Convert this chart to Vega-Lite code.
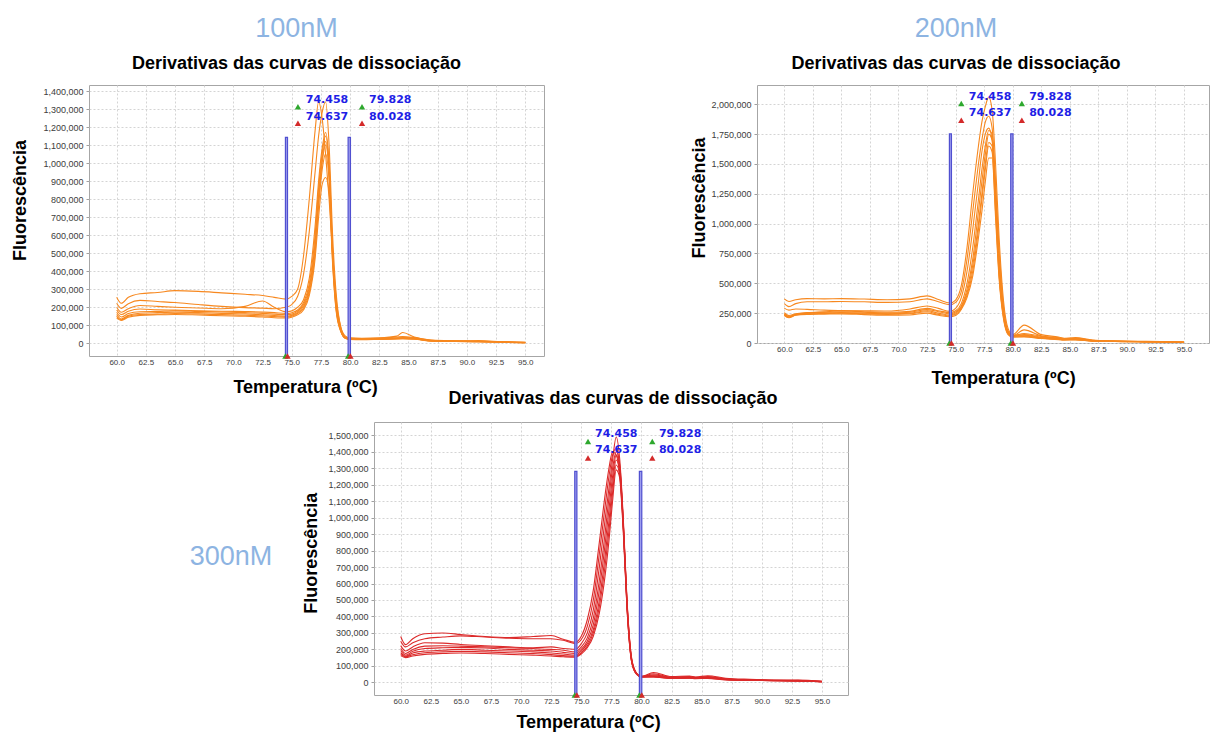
{
  "$schema": "https://vega.github.io/schema/vega-lite/v6.json",
  "background": "white",
  "padding": {"left": 10, "top": 14, "right": 0, "bottom": 0},
  "config": {
    "font": "Liberation Sans",
    "view": {"stroke": "#A6A6A6", "strokeWidth": 1},
    "axis": {"domain": false, "gridColor": "#D4D4D4", "gridDash": [2, 2], "gridWidth": 1, "labelColor": "#3C3C3C", "labelFont": "Liberation Sans", "tickColor": "#A0A0A0", "titleFont": "Liberation Sans", "titleFontSize": 18, "titleFontWeight": "bold", "titleColor": "#000000", "labelOverlap": false},
    "axisX": {"ticks": false, "labelFontSize": 8, "labelPadding": 2, "titleBaseline": "alphabetic", "titleAlign": "center"},
    "axisY": {"tickSize": 3, "labelPadding": 3, "labelFontSize": 9, "titleAngle": 270, "titleBaseline": "alphabetic", "titleAlign": "center"}
  },
  "datasets": {
    "p1": [
      {"t":60,"a":256000,"b":222000,"c":200000,"d":185000,"e":172000,"f":160000,"g":150000,"h":140000},
      {"t":60.4,"a":222000,"b":194000,"c":172000,"d":160000,"e":146000,"f":135000,"g":130000,"h":127000},
      {"t":61,"a":255000,"b":220000,"c":192000,"d":178000,"e":165000,"f":155000,"g":150000,"h":145000},
      {"t":62,"a":275000,"b":238000,"c":210000,"d":190000,"e":175000,"f":167000,"g":160000,"h":155000},
      {"t":63.5,"a":282000,"b":232000,"c":205000,"d":186000,"e":177000,"f":170000,"g":162000,"h":158000},
      {"t":65,"a":292000,"b":226000,"c":200000,"d":184000,"e":180000,"f":172000,"g":165000,"h":160000},
      {"t":67,"a":288000,"b":215000,"c":196000,"d":181000,"e":177000,"f":170000,"g":163000,"h":157000},
      {"t":69,"a":280000,"b":205000,"c":192000,"d":178000,"e":174000,"f":166000,"g":159000,"h":153000},
      {"t":71,"a":272000,"b":198000,"c":205000,"d":176000,"e":170000,"f":163000,"g":156000,"h":150000},
      {"t":72.5,"a":265000,"b":195000,"c":235000,"d":173000,"e":166000,"f":158000,"g":152000,"h":146000},
      {"t":73.5,"a":255000,"b":192000,"c":200000,"d":170000,"e":162000,"f":154000,"g":148000,"h":142000},
      {"t":74.5,"a":245000,"b":200000,"c":175000,"d":165000,"e":158000,"f":150000,"g":145000,"h":140000},
      {"t":75,"a":260000,"b":215000,"c":180000,"d":170000,"e":162000,"f":155000,"g":150000,"h":145000},
      {"t":75.5,"a":300000,"b":260000,"c":200000,"d":185000,"e":178000,"f":170000,"g":165000,"h":158000},
      {"t":76,"a":480000,"b":380000,"c":240000,"d":225000,"e":215000,"f":205000,"g":195000,"h":185000},
      {"t":76.5,"a":800000,"b":620000,"c":360000,"d":330000,"e":310000,"f":295000,"g":280000,"h":265000},
      {"t":77,"a":1180000,"b":950000,"c":650000,"d":600000,"e":560000,"f":530000,"g":500000,"h":470000},
      {"t":77.3,"a":1340000,"b":1150000,"c":900000,"d":860000,"e":820000,"f":790000,"g":760000,"h":700000},
      {"t":77.6,"a":1250000,"b":1280000,"c":1080000,"d":1050000,"e":1020000,"f":1000000,"g":960000,"h":880000},
      {"t":77.9,"a":1050000,"b":1340000,"c":1170000,"d":1150000,"e":1120000,"f":1100000,"g":1050000,"h":920000},
      {"t":78.2,"a":800000,"b":1100000,"c":1000000,"d":980000,"e":960000,"f":940000,"g":900000,"h":840000},
      {"t":78.5,"a":500000,"b":600000,"c":520000,"d":500000,"e":490000,"f":480000,"g":460000,"h":440000},
      {"t":78.8,"a":250000,"b":280000,"c":230000,"d":220000,"e":210000,"f":200000,"g":190000,"h":180000},
      {"t":79.2,"a":90000,"b":90000,"c":80000,"d":75000,"e":72000,"f":70000,"g":68000,"h":65000},
      {"t":79.6,"a":40000,"b":35000,"c":32000,"d":30000,"e":30000,"f":28000,"g":28000,"h":27000},
      {"t":80,"a":30000,"b":28000,"c":26000,"d":25000,"e":24000,"f":23000,"g":22000,"h":22000},
      {"t":81,"a":28000,"b":26000,"c":25000,"d":24000,"e":22000,"f":22000,"g":21000,"h":20000},
      {"t":82.5,"a":30000,"b":28000,"c":26000,"d":25000,"e":24000,"f":23000,"g":22000,"h":22000},
      {"t":84,"a":40000,"b":35000,"c":30000,"d":28000,"e":27000,"f":26000,"g":25000,"h":24000},
      {"t":84.5,"a":60000,"b":38000,"c":32000,"d":30000,"e":28000,"f":27000,"g":26000,"h":25000},
      {"t":85.5,"a":35000,"b":32000,"c":30000,"d":28000,"e":26000,"f":25000,"g":24000,"h":23000},
      {"t":87,"a":18000,"b":16000,"c":15000,"d":14000,"e":14000,"f":13000,"g":13000,"h":12000},
      {"t":89,"a":14000,"b":13000,"c":12000,"d":12000,"e":11000,"f":11000,"g":10000,"h":10000},
      {"t":91,"a":12000,"b":11000,"c":15000,"d":10000,"e":10000,"f":9000,"g":9000,"h":9000},
      {"t":93,"a":8000,"b":8000,"c":8000,"d":7000,"e":7000,"f":6000,"g":6000,"h":6000},
      {"t":95,"a":5000,"b":5000,"c":4000,"d":4000,"e":3000,"f":3000,"g":3000,"h":3000}
    ],
    "p2": [
      {"t":60,"a":370000,"b":330000,"c":292000,"d":255000,"e":245000,"f":240000,"g":235000,"h":230000},
      {"t":60.4,"a":348000,"b":305000,"c":275000,"d":230000,"e":222000,"f":218000,"g":215000,"h":212000},
      {"t":61,"a":362000,"b":330000,"c":285000,"d":245000,"e":240000,"f":238000,"g":235000,"h":232000},
      {"t":62,"a":372000,"b":345000,"c":282000,"d":255000,"e":252000,"f":248000,"g":245000,"h":240000},
      {"t":63.5,"a":370000,"b":345000,"c":275000,"d":262000,"e":258000,"f":252000,"g":248000,"h":242000},
      {"t":65,"a":372000,"b":348000,"c":272000,"d":268000,"e":262000,"f":255000,"g":250000,"h":244000},
      {"t":67,"a":368000,"b":345000,"c":270000,"d":262000,"e":258000,"f":250000,"g":245000,"h":238000},
      {"t":69,"a":362000,"b":340000,"c":268000,"d":258000,"e":250000,"f":245000,"g":240000,"h":232000},
      {"t":71,"a":370000,"b":345000,"c":285000,"d":265000,"e":258000,"f":250000,"g":245000,"h":235000},
      {"t":72.5,"a":395000,"b":370000,"c":310000,"d":290000,"e":280000,"f":270000,"g":262000,"h":250000},
      {"t":73.5,"a":365000,"b":345000,"c":290000,"d":270000,"e":262000,"f":250000,"g":240000,"h":232000},
      {"t":74.5,"a":335000,"b":320000,"c":265000,"d":255000,"e":245000,"f":235000,"g":228000,"h":220000},
      {"t":75,"a":360000,"b":340000,"c":290000,"d":270000,"e":260000,"f":250000,"g":240000,"h":230000},
      {"t":75.5,"a":480000,"b":430000,"c":380000,"d":330000,"e":310000,"f":300000,"g":290000,"h":280000},
      {"t":76,"a":800000,"b":700000,"c":600000,"d":500000,"e":450000,"f":420000,"g":400000,"h":380000},
      {"t":76.5,"a":1250000,"b":1100000,"c":950000,"d":800000,"e":700000,"f":650000,"g":600000,"h":560000},
      {"t":77,"a":1650000,"b":1500000,"c":1350000,"d":1200000,"e":1100000,"f":1000000,"g":950000,"h":880000},
      {"t":77.3,"a":1850000,"b":1700000,"c":1600000,"d":1450000,"e":1350000,"f":1250000,"g":1200000,"h":1100000},
      {"t":77.6,"a":1980000,"b":1850000,"c":1750000,"d":1650000,"e":1580000,"f":1500000,"g":1450000,"h":1350000},
      {"t":77.9,"a":2060000,"b":1900000,"c":1800000,"d":1780000,"e":1750000,"f":1680000,"g":1650000,"h":1550000},
      {"t":78.2,"a":1950000,"b":1800000,"c":1700000,"d":1750000,"e":1700000,"f":1650000,"g":1600000,"h":1550000},
      {"t":78.5,"a":1500000,"b":1300000,"c":1250000,"d":1350000,"e":1200000,"f":1150000,"g":1100000,"h":1050000},
      {"t":78.8,"a":900000,"b":800000,"c":700000,"d":750000,"e":650000,"f":600000,"g":580000,"h":550000},
      {"t":79.2,"a":350000,"b":300000,"c":260000,"d":280000,"e":240000,"f":220000,"g":210000,"h":200000},
      {"t":79.6,"a":120000,"b":100000,"c":90000,"d":95000,"e":85000,"f":80000,"g":75000,"h":70000},
      {"t":80,"a":70000,"b":60000,"c":60000,"d":65000,"e":60000,"f":55000,"g":50000,"h":50000},
      {"t":81,"a":150000,"b":110000,"c":80000,"d":70000,"e":65000,"f":60000,"g":55000,"h":50000},
      {"t":82.5,"a":70000,"b":60000,"c":55000,"d":50000,"e":45000,"f":42000,"g":40000,"h":38000},
      {"t":84,"a":50000,"b":45000,"c":40000,"d":38000,"e":35000,"f":32000,"g":30000,"h":28000},
      {"t":84.5,"a":40000,"b":38000,"c":35000,"d":33000,"e":30000,"f":28000,"g":26000,"h":25000},
      {"t":85.5,"a":45000,"b":40000,"c":38000,"d":35000,"e":32000,"f":30000,"g":28000,"h":26000},
      {"t":87,"a":25000,"b":22000,"c":20000,"d":20000,"e":18000,"f":18000,"g":16000,"h":15000},
      {"t":89,"a":18000,"b":16000,"c":15000,"d":14000,"e":13000,"f":13000,"g":12000,"h":12000},
      {"t":91,"a":14000,"b":13000,"c":12000,"d":12000,"e":11000,"f":11000,"g":10000,"h":10000},
      {"t":93,"a":12000,"b":11000,"c":10000,"d":10000,"e":9000,"f":9000,"g":8000,"h":8000},
      {"t":95,"a":8000,"b":7000,"c":6000,"d":6000,"e":5000,"f":5000,"g":4000,"h":4000}
    ],
    "p3": [
      {"t":60,"a":278000,"b":250000,"c":223000,"d":205000,"e":193000,"f":180000,"g":170000,"h":162000},
      {"t":60.4,"a":229000,"b":215000,"c":190000,"d":175000,"e":165000,"f":158000,"g":155000,"h":150000},
      {"t":61,"a":265000,"b":240000,"c":215000,"d":200000,"e":188000,"f":178000,"g":168000,"h":160000},
      {"t":62,"a":295000,"b":265000,"c":240000,"d":220000,"e":205000,"f":190000,"g":180000,"h":170000},
      {"t":63.5,"a":300000,"b":275000,"c":238000,"d":222000,"e":210000,"f":195000,"g":185000,"h":175000},
      {"t":65,"a":290000,"b":282000,"c":230000,"d":220000,"e":212000,"f":200000,"g":188000,"h":178000},
      {"t":67,"a":278000,"b":275000,"c":222000,"d":215000,"e":208000,"f":195000,"g":185000,"h":175000},
      {"t":69,"a":272000,"b":268000,"c":215000,"d":210000,"e":200000,"f":190000,"g":180000,"h":170000},
      {"t":71,"a":278000,"b":265000,"c":210000,"d":205000,"e":195000,"f":185000,"g":175000,"h":165000},
      {"t":72.5,"a":284000,"b":265000,"c":215000,"d":200000,"e":190000,"f":178000,"g":168000,"h":160000},
      {"t":73.5,"a":262000,"b":255000,"c":205000,"d":195000,"e":182000,"f":172000,"g":162000,"h":155000},
      {"t":74.5,"a":243000,"b":235000,"c":200000,"d":185000,"e":175000,"f":165000,"g":158000,"h":152000},
      {"t":75,"a":280000,"b":260000,"c":235000,"d":215000,"e":200000,"f":190000,"g":180000,"h":172000},
      {"t":75.5,"a":380000,"b":340000,"c":300000,"d":270000,"e":250000,"f":235000,"g":220000,"h":210000},
      {"t":76,"a":560000,"b":500000,"c":440000,"d":390000,"e":350000,"f":320000,"g":300000,"h":280000},
      {"t":76.5,"a":850000,"b":780000,"c":700000,"d":620000,"e":560000,"f":500000,"g":460000,"h":420000},
      {"t":77,"a":1150000,"b":1080000,"c":1000000,"d":920000,"e":850000,"f":780000,"g":720000,"h":660000},
      {"t":77.3,"a":1300000,"b":1250000,"c":1180000,"d":1120000,"e":1050000,"f":980000,"g":920000,"h":860000},
      {"t":77.6,"a":1400000,"b":1380000,"c":1350000,"d":1300000,"e":1250000,"f":1200000,"g":1150000,"h":1100000},
      {"t":77.9,"a":1380000,"b":1420000,"c":1490000,"d":1400000,"e":1380000,"f":1350000,"g":1320000,"h":1290000},
      {"t":78.2,"a":1250000,"b":1300000,"c":1350000,"d":1320000,"e":1300000,"f":1280000,"g":1260000,"h":1240000},
      {"t":78.5,"a":900000,"b":950000,"c":980000,"d":960000,"e":950000,"f":940000,"g":930000,"h":920000},
      {"t":78.8,"a":450000,"b":480000,"c":500000,"d":490000,"e":480000,"f":470000,"g":460000,"h":450000},
      {"t":79.2,"a":120000,"b":130000,"c":140000,"d":135000,"e":130000,"f":125000,"g":120000,"h":118000},
      {"t":79.6,"a":50000,"b":52000,"c":55000,"d":55000,"e":52000,"f":50000,"g":50000,"h":48000},
      {"t":80,"a":35000,"b":35000,"c":36000,"d":35000,"e":34000,"f":33000,"g":32000,"h":32000},
      {"t":81,"a":60000,"b":52000,"c":45000,"d":40000,"e":38000,"f":35000,"g":33000,"h":32000},
      {"t":82.5,"a":35000,"b":32000,"c":30000,"d":28000,"e":27000,"f":25000,"g":24000,"h":23000},
      {"t":84,"a":38000,"b":35000,"c":32000,"d":30000,"e":28000,"f":27000,"g":26000,"h":25000},
      {"t":84.5,"a":32000,"b":30000,"c":28000,"d":27000,"e":25000,"f":24000,"g":23000,"h":22000},
      {"t":85.5,"a":40000,"b":35000,"c":32000,"d":30000,"e":28000,"f":26000,"g":25000,"h":24000},
      {"t":87,"a":25000,"b":22000,"c":20000,"d":20000,"e":18000,"f":17000,"g":16000,"h":15000},
      {"t":89,"a":18000,"b":16000,"c":15000,"d":14000,"e":13000,"f":13000,"g":12000,"h":12000},
      {"t":91,"a":14000,"b":12000,"c":12000,"d":11000,"e":11000,"f":10000,"g":10000,"h":10000},
      {"t":93,"a":12000,"b":14000,"c":10000,"d":10000,"e":9000,"f":9000,"g":8000,"h":8000},
      {"t":95,"a":6000,"b":6000,"c":5000,"d":5000,"e":4000,"f":4000,"g":4000,"h":3000}
    ],
    "bars1": [{"t":74.458,"t2":74.637,"v":1143000},{"t":79.828,"t2":80.028,"v":1143000}],
    "bars2": [{"t":74.458,"t2":74.637,"v":1752000},{"t":79.828,"t2":80.028,"v":1752000}],
    "bars3": [{"t":74.458,"t2":74.637,"v":1281000},{"t":79.828,"t2":80.028,"v":1281000}],
    "bot": [{"t":74.458,"kind":"start"},{"t":79.828,"kind":"start"},{"t":74.637,"kind":"end"},{"t":80.028,"kind":"end"}],
    "lab1": [{"t":76.2,"v":1350000,"lbl":"74.458"},{"t":76.2,"v":1257000,"lbl":"74.637"},{"t":81.62,"v":1350000,"lbl":"79.828"},{"t":81.62,"v":1257000,"lbl":"80.028"}],
    "tri1": [{"t":75.53,"v":1313000,"kind":"start"},{"t":75.53,"v":1221000,"kind":"end"},{"t":81.02,"v":1313000,"kind":"start"},{"t":81.02,"v":1221000,"kind":"end"}],
    "lab2": [{"t":76.16,"v":2063000,"lbl":"74.458"},{"t":76.16,"v":1927000,"lbl":"74.637"},{"t":81.44,"v":2063000,"lbl":"79.828"},{"t":81.44,"v":1927000,"lbl":"80.028"}],
    "tri2": [{"t":75.5,"v":2006000,"kind":"start"},{"t":75.5,"v":1867000,"kind":"end"},{"t":80.8,"v":2006000,"kind":"start"},{"t":80.8,"v":1867000,"kind":"end"}],
    "lab3": [{"t":76.14,"v":1510000,"lbl":"74.458"},{"t":76.14,"v":1408000,"lbl":"74.637"},{"t":81.45,"v":1510000,"lbl":"79.828"},{"t":81.45,"v":1408000,"lbl":"80.028"}],
    "tri3": [{"t":75.56,"v":1463000,"kind":"start"},{"t":75.56,"v":1362000,"kind":"end"},{"t":80.9,"v":1463000,"kind":"start"},{"t":80.9,"v":1362000,"kind":"end"}],
    "conc3": [{"fx":0.673,"fy":0.5055,"lbl":"300nM"}]
  },
  "spacing": -8,
  "vconcat": [
    {
      "spacing": 144,
      "hconcat": [
        {
          "width": 455, "height": 271,
          "title": {"text": "100nM", "subtitle": "Derivativas das curvas de dissociação", "fontSize": 27, "fontWeight": "normal", "color": "#8DB4E2", "font": "Liberation Sans", "subtitleFont": "Liberation Sans", "subtitleFontSize": 18, "subtitleFontWeight": "bold", "subtitleColor": "#000000", "subtitlePadding": 12, "offset": 11, "anchor": "middle", "dx": -20},
          "encoding": {
            "x": {"field": "t", "type": "quantitative", "scale": {"domain": [57.63, 96.61], "nice": false, "zero": false},
                  "axis": {"values": [60,62.5,65,67.5,70,72.5,75,77.5,80,82.5,85,87.5,90,92.5,95], "format": ".1f", "title": "Temperatura (ºC)", "titleX": 216, "titleY": 36}},
            "y": {"field": "v", "type": "quantitative", "scale": {"domain": [-70500, 1433300], "nice": false, "zero": false},
                  "axis": {"values": [0,100000,200000,300000,400000,500000,600000,700000,800000,900000,1000000,1100000,1200000,1300000,1400000], "format": ",d", "title": "Fluorescência", "titleX": -64, "titleY": 115}}
          },
          "layer": [
            {"data": {"name": "p1"}, "transform": [{"fold": ["a","b","c","d","e","f","g","h"], "as": ["curve","v"]}],
             "mark": {"type": "line", "interpolate": "monotone", "strokeWidth": 1.1, "color": "#F7881F"},
             "encoding": {"detail": {"field": "curve"}}},
            {"data": {"name": "bars1"}, "mark": {"type": "rect", "fill": "#9E9EEE", "stroke": "#5050D0", "strokeWidth": 1.2},
             "encoding": {"x2": {"field": "t2"}, "y2": {"datum": -70500}}},
            {"data": {"name": "bot"}, "mark": {"type": "point", "shape": "triangle-up", "filled": true, "size": 40, "opacity": 1},
             "encoding": {"y": {"value": "height"}, "color": {"field": "kind", "type": "nominal", "scale": {"domain": ["start","end"], "range": ["#2EA82E","#D42A2A"]}, "legend": null}}},
            {"data": {"name": "tri1"}, "mark": {"type": "point", "shape": "triangle-up", "filled": true, "size": 40, "opacity": 1},
             "encoding": {"color": {"field": "kind", "type": "nominal", "scale": {"domain": ["start","end"], "range": ["#2EA82E","#D42A2A"]}, "legend": null}}},
            {"data": {"name": "lab1"}, "mark": {"type": "text", "align": "left", "baseline": "middle", "font": "DejaVu Sans", "fontWeight": "bold", "fontSize": 11, "color": "#1E1EE6"},
             "encoding": {"text": {"field": "lbl"}}}
          ]
        },
        {
          "width": 452, "height": 258,
          "title": {"text": "200nM", "subtitle": "Derivativas das curvas de dissociação", "fontSize": 27, "fontWeight": "normal", "color": "#8DB4E2", "font": "Liberation Sans", "subtitleFont": "Liberation Sans", "subtitleFontSize": 18, "subtitleFontWeight": "bold", "subtitleColor": "#000000", "subtitlePadding": 12, "offset": 11, "anchor": "middle", "dx": -27},
          "encoding": {
            "x": {"field": "t", "type": "quantitative", "scale": {"domain": [57.61, 97.19], "nice": false, "zero": false},
                  "axis": {"values": [60,62.5,65,67.5,70,72.5,75,77.5,80,82.5,85,87.5,90,92.5,95], "format": ".1f", "title": "Temperatura (ºC)", "titleX": 246, "titleY": 40}},
            "y": {"field": "v", "type": "quantitative", "scale": {"domain": [0, 2161400], "nice": false, "zero": false},
                  "axis": {"values": [0,250000,500000,750000,1000000,1250000,1500000,1750000,2000000], "format": ",d", "title": "Fluorescência", "titleX": -52.7, "titleY": 112.5}}
          },
          "layer": [
            {"data": {"name": "p2"}, "transform": [{"fold": ["a","b","c","d","e","f","g","h"], "as": ["curve","v"]}],
             "mark": {"type": "line", "interpolate": "monotone", "strokeWidth": 1.1, "color": "#F7881F"},
             "encoding": {"detail": {"field": "curve"}}},
            {"data": {"name": "bars2"}, "mark": {"type": "rect", "fill": "#9E9EEE", "stroke": "#5050D0", "strokeWidth": 1.2},
             "encoding": {"x2": {"field": "t2"}, "y2": {"datum": 0}}},
            {"data": {"name": "bot"}, "mark": {"type": "point", "shape": "triangle-up", "filled": true, "size": 40, "opacity": 1},
             "encoding": {"y": {"value": "height"}, "color": {"field": "kind", "type": "nominal", "scale": {"domain": ["start","end"], "range": ["#2EA82E","#D42A2A"]}, "legend": null}}},
            {"data": {"name": "tri2"}, "mark": {"type": "point", "shape": "triangle-up", "filled": true, "size": 40, "opacity": 1},
             "encoding": {"color": {"field": "kind", "type": "nominal", "scale": {"domain": ["start","end"], "range": ["#2EA82E","#D42A2A"]}, "legend": null}}},
            {"data": {"name": "lab2"}, "mark": {"type": "text", "align": "left", "baseline": "middle", "font": "DejaVu Sans", "fontWeight": "bold", "fontSize": 11, "color": "#1E1EE6"},
             "encoding": {"text": {"field": "lbl"}}}
          ]
        }
      ]
    },
    {
      "spacing": 0,
      "hconcat": [
        {"width": 211, "height": 273, "view": {"stroke": "transparent"}, "data": {"name": "conc3"},
         "mark": {"type": "text", "fontSize": 27, "color": "#8DB4E2", "font": "Liberation Sans", "align": "center", "baseline": "middle"},
         "encoding": {"x": {"field": "fx", "type": "quantitative", "scale": {"domain": [0, 1]}, "axis": null},
                      "y": {"field": "fy", "type": "quantitative", "scale": {"domain": [0, 1]}, "axis": null},
                      "text": {"field": "lbl"}}},
        {
          "width": 474, "height": 273,
          "title": {"text": "Derivativas das curvas de dissociação", "fontSize": 18, "fontWeight": "bold", "color": "#000000", "font": "Liberation Sans", "offset": 14, "anchor": "middle", "dx": 2},
          "encoding": {
            "x": {"field": "t", "type": "quantitative", "scale": {"domain": [57.78, 97.16], "nice": false, "zero": false},
                  "axis": {"values": [60,62.5,65,67.5,70,72.5,75,77.5,80,82.5,85,87.5,90,92.5,95], "format": ".1f", "title": "Temperatura (ºC)", "titleX": 214, "titleY": 32}},
            "y": {"field": "v", "type": "quantitative", "scale": {"domain": [-77000, 1581000], "nice": false, "zero": false},
                  "axis": {"values": [0,100000,200000,300000,400000,500000,600000,700000,800000,900000,1000000,1100000,1200000,1300000,1400000,1500000], "format": ",d", "title": "Fluorescência", "titleX": -58, "titleY": 130.8}}
          },
          "layer": [
            {"data": {"name": "p3"}, "transform": [{"fold": ["a","b","c","d","e","f","g","h"], "as": ["curve","v"]}],
             "mark": {"type": "line", "interpolate": "monotone", "strokeWidth": 1.1, "color": "#DC2A2A"},
             "encoding": {"detail": {"field": "curve"}}},
            {"data": {"name": "bars3"}, "mark": {"type": "rect", "fill": "#9E9EEE", "stroke": "#5050D0", "strokeWidth": 1.2},
             "encoding": {"x2": {"field": "t2"}, "y2": {"datum": -77000}}},
            {"data": {"name": "bot"}, "mark": {"type": "point", "shape": "triangle-up", "filled": true, "size": 40, "opacity": 1},
             "encoding": {"y": {"value": "height"}, "color": {"field": "kind", "type": "nominal", "scale": {"domain": ["start","end"], "range": ["#2EA82E","#D42A2A"]}, "legend": null}}},
            {"data": {"name": "tri3"}, "mark": {"type": "point", "shape": "triangle-up", "filled": true, "size": 40, "opacity": 1},
             "encoding": {"color": {"field": "kind", "type": "nominal", "scale": {"domain": ["start","end"], "range": ["#2EA82E","#D42A2A"]}, "legend": null}}},
            {"data": {"name": "lab3"}, "mark": {"type": "text", "align": "left", "baseline": "middle", "font": "DejaVu Sans", "fontWeight": "bold", "fontSize": 11, "color": "#1E1EE6"},
             "encoding": {"text": {"field": "lbl"}}}
          ]
        }
      ]
    }
  ]
}
